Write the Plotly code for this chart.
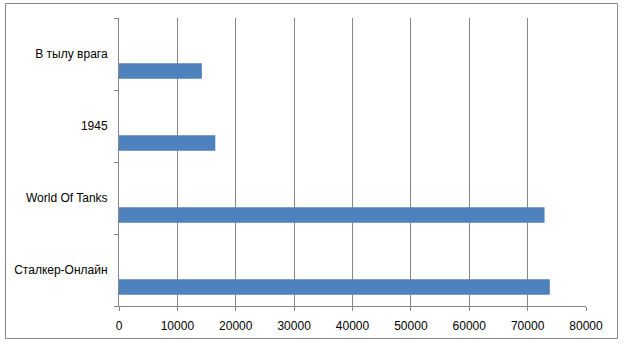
import plotly.graph_objects as go

categories = ["Сталкер-Онлайн", "World Of Tanks", "1945", "В тылу врага"]
values = [73800, 72900, 16500, 14200]
x_ticks = [0, 10000, 20000, 30000, 40000, 50000, 60000, 70000, 80000]

fig = go.Figure()
fig.add_trace(go.Bar(
    y=categories, x=values, orientation="h",
    marker=dict(color="#4F81BD", line=dict(width=0)),
    width=0.215, offset=-0.345,
))

axis_col = "#868686"
fig.update_layout(
    width=625, height=345,
    margin=dict(l=119, r=39, t=18, b=39),
    paper_bgcolor="white", plot_bgcolor="white",
    showlegend=False,
    font=dict(family="Liberation Sans", size=12, color="#000000"),
    xaxis=dict(
        range=[0, 80000], tickvals=x_ticks, ticktext=[str(v) for v in x_ticks],
        showgrid=True, gridcolor=axis_col, gridwidth=1,
        showline=True, linecolor=axis_col, linewidth=1,
        ticks="outside", ticklen=4, tickcolor=axis_col,
        ticklabelstandoff=5,
        zeroline=False, fixedrange=True,
    ),
    yaxis=dict(
        type="category", categoryorder="array", categoryarray=categories,
        range=[-0.5, 3.5],
        showgrid=False, showline=True, linecolor=axis_col, linewidth=1,
        ticks="outside", ticklen=4, tickcolor=axis_col, tickson="boundaries",
        ticklabelstandoff=8, zeroline=False, fixedrange=True,
    ),
    shapes=[dict(type="rect", xref="paper", yref="paper",
                 x0=-113.5/467, x1=(617.5-119)/467,
                 y0=(306-338.5)/288, y1=(306-3.5)/288,
                 line=dict(color=axis_col, width=1), layer="below")],
)

fig.write_html("out.html")
